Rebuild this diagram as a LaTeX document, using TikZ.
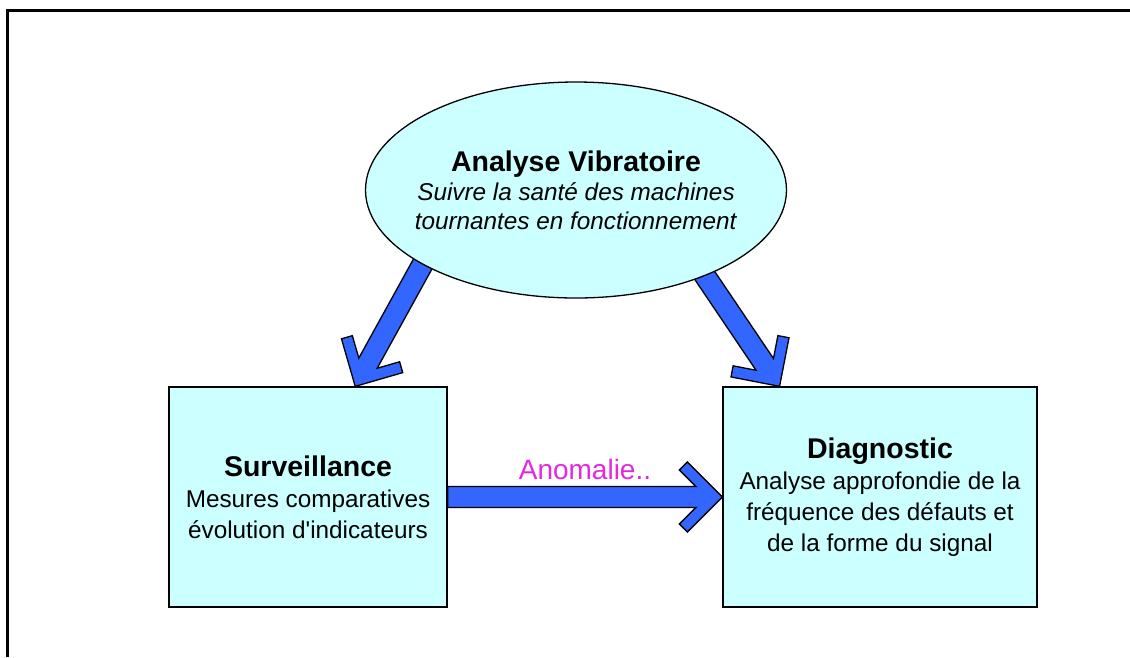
\documentclass[tikz,border=0pt]{standalone}
\usepackage{fontspec}
\setmainfont{Liberation Sans}
\usetikzlibrary{shapes.geometric,calc}
\pgfdeclarelayer{background}
\pgfsetlayers{background,main}
\definecolor{boxfill}{RGB}{204,255,255}
\definecolor{arrowblue}{RGB}{51,102,255}
\definecolor{anomaly}{RGB}{228,40,222}

% block arrow geometry: shaft half width, wing reach, junction, wing inner end
\newcommand\ah{10.5pt}
\newcommand\aw{35pt}
\newcommand\aj{26.5pt}
\newcommand\ai{43pt}
\newcommand\al{27pt}

% body text size with a fixed line pitch
\newcommand\bodyfont[1]{\fontsize{24.3}{#1}\selectfont\lineskiplimit=-20pt\relax}
\newcommand\headfont{\fontsize{28.5}{30}\selectfont\bfseries}

% block arrow with a chevron head, from tail #1 to tip #2
\newcommand\blockarrow[2]{%
  \draw[blockarr] ($(#1)!\ah!90:(#2)$)
    -- ($(#2)!\aj!(#1)!\ah!-90:(#1)$)
    -- ($(#2)!\ai!(#1)!\al!-90:(#1)$)
    -- ($(#2)!\aw!(#1)!\aw!-90:(#1)$)
    -- (#2)
    -- ($(#2)!\aw!(#1)!\aw!90:(#1)$)
    -- ($(#2)!\ai!(#1)!\al!90:(#1)$)
    -- ($(#2)!\aj!(#1)!\ah!90:(#1)$)
    -- ($(#1)!\ah!-90:(#2)$) -- cycle;}

\tikzset{
  blockarr/.style={draw=black, line width=1.3pt, fill=arrowblue, line join=miter},
  topic/.style={ellipse, draw=black, line width=1.3pt, fill=boxfill,
    minimum width=421pt, minimum height=216pt, inner ysep=0pt, inner xsep=-25pt,
    align=center, font=\bodyfont{29}},
  stage/.style={rectangle, draw=black, line width=1.3pt, fill=boxfill,
    minimum height=220pt, inner sep=0pt, align=center,
    font=\bodyfont{31}},
}

\begin{document}
\begin{tikzpicture}[x=1pt,y=-1pt]
\useasboundingbox (0,0) rectangle (1130,657);

% open frame along the top and left sides
\draw[line width=3pt] (7.5,657) -- (7.5,10.5) -- (1130,10.5);

\node[topic] (va) at (576,190)
  {{\headfont Analyse Vibratoire}\\
   \textit{Suivre la santé des machines}\\
   \textit{tournantes en fonctionnement}};

\node[stage, minimum width=278pt] (sv) at (308,497)
  {{\headfont Surveillance}\\
   Mesures comparatives\\
   évolution d\textquotesingle indicateurs};

\node[stage, minimum width=314pt] (dg) at (880,497)
  {{\headfont Diagnostic}\\
   Analyse approfondie de la\\
   fréquence des défauts et\\
   de la forme du signal};

\node[anchor=base, text=anomaly, font=\fontsize{28}{30}\selectfont] (an)
  at ($($(sv.east)!0.5!(dg.west)$)+(0,-18)$) {Anomalie..};

% arrow tails sit inside the ellipse, tips on the box tops
\coordinate (t1) at (431,249);
\coordinate (t2) at (697,264);
\coordinate (h1) at ($(sv.north west)!0.669!(sv.north east)$);
\coordinate (h2) at ($(dg.north west)!0.1815!(dg.north east)$);

\begin{pgfonlayer}{background}
  \blockarrow{t1}{h1}
  \blockarrow{t2}{h2}
  \blockarrow{sv.east}{dg.west}
\end{pgfonlayer}
\end{tikzpicture}
\end{document}
